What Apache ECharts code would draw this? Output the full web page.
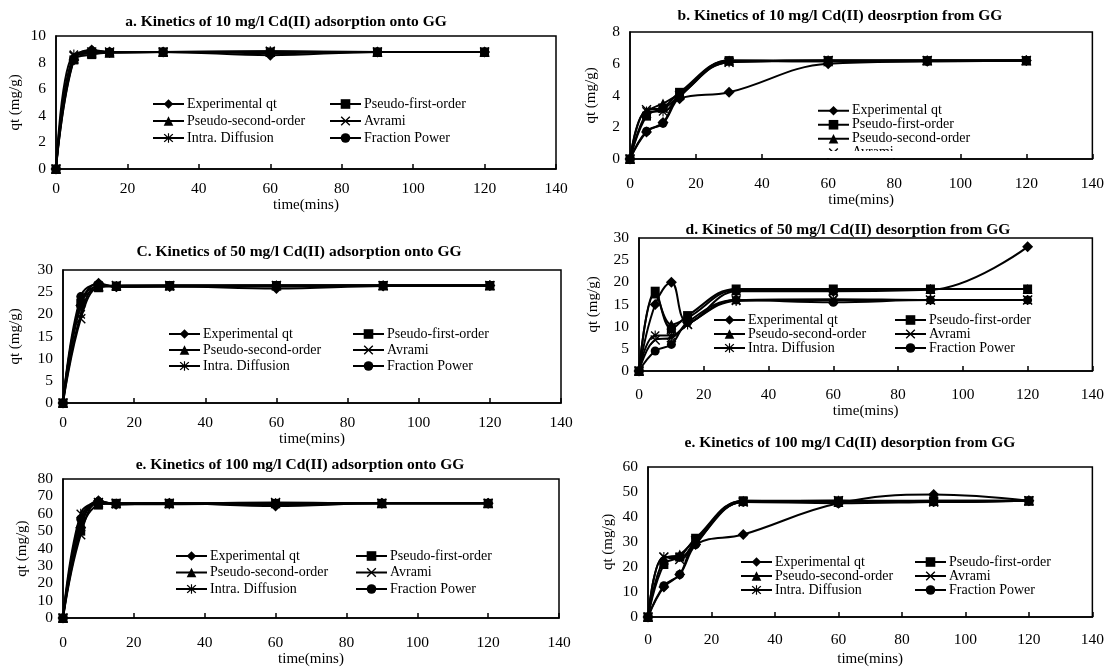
<!DOCTYPE html>
<html><head><meta charset="utf-8">
<script src="https://cdn.jsdelivr.net/npm/echarts@6/dist/echarts.min.js"></script>
<style>html,body{margin:0;padding:0;background:#fff}#c{width:1107px;height:668px}</style>
</head><body><div id="c"></div><script>
// ---------- data ----------
const times = [0, 5, 10, 15, 30, 60, 90, 120];
const seriesNames = ['Experimental qt', 'Pseudo-first-order', 'Pseudo-second-order', 'Avrami', 'Intra. Diffusion', 'Fraction Power'];
const xTickMax = 140, xTickStep = 20;
const yLabel = 'qt (mg/g)';
const xLabel = 'time(mins)';
const titles = [
  'a. Kinetics of 10 mg/l Cd(II) adsorption onto GG',
  'b. Kinetics of 10 mg/l Cd(II) deosrption from GG',
  'C. Kinetics of 50 mg/l Cd(II) adsorption onto GG',
  'd. Kinetics of 50 mg/l Cd(II) desorption from GG',
  'e. Kinetics of 100 mg/l Cd(II) adsorption onto GG',
  'e. Kinetics of 100 mg/l Cd(II) desorption from GG'
];
const yMax = [10, 8, 30, 30, 80, 60];
const yStep = [2, 2, 5, 5, 10, 10];

// a. 10 mg/l adsorption
const aExp = [0, 8.2, 8.95, 8.8, 8.8, 8.55, 8.8, 8.8];
const aPFO = [0, 8.2, 8.6, 8.75, 8.8, 8.8, 8.8, 8.8];
const aPSO = [0, 8.3, 8.7, 8.75, 8.8, 8.8, 8.8, 8.8];
const aAvr = [0, 8.5, 8.8, 8.8, 8.8, 8.85, 8.8, 8.8];
const aInt = [0, 8.6, 8.7, 8.75, 8.8, 8.85, 8.8, 8.8];
const aFP  = [0, 8.3, 8.9, 8.8, 8.8, 8.7, 8.8, 8.8];
// b. 10 mg/l desorption
const bExp = [0, 1.7, 2.3, 3.8, 4.2, 6.0, 6.15, 6.2];
const bPFO = [0, 2.7, 3.2, 4.2, 6.2, 6.2, 6.2, 6.2];
const bPSO = [0, 2.9, 3.5, 4.1, 6.2, 6.15, 6.2, 6.2];
const bAvr = [0, 3.1, 3.2, 4.0, 6.1, 6.2, 6.2, 6.2];
const bInt = [0, 3.0, 3.0, 4.0, 6.1, 6.2, 6.2, 6.2];
const bFP  = [0, 1.75, 2.25, 3.9, 6.15, 6.15, 6.15, 6.2];
// c. 50 mg/l adsorption
const cExp = [0, 22, 27, 26.2, 26.3, 25.8, 26.4, 26.5];
const cPFO = [0, 22.5, 26, 26.4, 26.5, 26.5, 26.5, 26.5];
const cPSO = [0, 23, 26.3, 26.4, 26.5, 26.5, 26.5, 26.5];
const cAvr = [0, 19, 26.2, 26.5, 26.5, 26.5, 26.5, 26.5];
const cInt = [0, 20, 26.5, 26.3, 26.3, 26.5, 26.5, 26.5];
const cFP  = [0, 24, 26.8, 26.2, 26.4, 26.3, 26.5, 26.5];
// d. 50 mg/l desorption
const dExp = [0, 15, 20, 11, 18, 18, 18.3, 28];
const dPFO = [0, 18, 9.5, 12.5, 18.5, 18.5, 18.5, 18.5];
const dPSO = [0, 17.5, 10.5, 12, 18.2, 18.2, 18.5, 18.5];
const dAvr = [0, 7, 7.5, 10.5, 16, 16.2, 16, 16];
const dInt = [0, 8, 8, 10.5, 15.8, 16, 16, 16];
const dFP  = [0, 4.5, 6, 11, 16, 15.5, 16, 16];
// e. 100 mg/l adsorption
const eExp = [0, 52, 67.5, 65.5, 66, 64.5, 66, 66];
const ePFO = [0, 50, 65, 66, 66, 66, 66, 66];
const ePSO = [0, 55, 66, 66, 66, 66, 66, 66];
const eAvr = [0, 48, 66.5, 66, 66, 66.5, 66, 66];
const eInt = [0, 60, 66, 65.5, 65.5, 66, 66, 66];
const eFP  = [0, 57, 67, 65.5, 66, 65.5, 66, 66];
// f. 100 mg/l desorption
const fExp = [0, 12, 17, 29, 33, 45.5, 49, 46.5];
const fPFO = [0, 21, 24, 31.5, 46.5, 46.5, 46.5, 46.5];
const fPSO = [0, 23, 25, 31, 46.5, 46, 46.5, 46.5];
const fAvr = [0, 24, 23, 30.5, 46, 46.5, 46, 46.5];
const fInt = [0, 24, 24, 30, 46, 46.5, 46, 46.5];
const fFP  = [0, 12.5, 17, 29, 46, 45.5, 46, 46.5];

const panels = [
  [aExp, aPFO, aPSO, aAvr, aInt, aFP],
  [bExp, bPFO, bPSO, bAvr, bInt, bFP],
  [cExp, cPFO, cPSO, cAvr, cInt, cFP],
  [dExp, dPFO, dPSO, dAvr, dInt, dFP],
  [eExp, ePFO, ePSO, eAvr, eInt, eFP],
  [fExp, fPFO, fPSO, fAvr, fInt, fFP]
];

// ---------- layout / style ----------
const FONT = 'Liberation Serif, Times New Roman, serif';
const grids = [
  {left: 56, top: 36, width: 500, height: 133},
  {left: 630, top: 32, width: 465, height: 127},
  {left: 63, top: 270, width: 498, height: 133},
  {left: 639, top: 238, width: 456, height: 133},
  {left: 63, top: 479, width: 496, height: 151},
  {left: 648, top: 467, width: 447, height: 152}
];
const xLabelMargin = [12, 17, 12, 16, 17, 15];
const xNameGap = [24, 30, 26, 32, 25, 35];
const yNameGap = [33, 31, 40, 38, 33, 32];
const titlePos = [[286, 22], [840, 16], [299, 252], [848, 230], [300, 465], [850, 443]];

const XPATH = 'path://M0,1L1,0L5,4L9,0L10,1L6,5L10,9L9,10L5,6L1,10L0,9L4,5Z';
const STARPATH = 'path://M0,1L1,0L5,4L9,0L10,1L6,5L10,9L9,10L5,6L1,10L0,9L4,5ZM4.4,-0.5L5.6,-0.5L5.6,10.5L4.4,10.5Z';
const symbols = ['diamond', 'rect', 'triangle', XPATH, STARPATH, 'circle'];
const symbolSizes = [11, 9, 10, 10, 10, 9];

const series = [];
panels.forEach((arrs, p) => {
  arrs.forEach((vals, k) => {
    series.push({
      type: 'line', name: seriesNames[k], xAxisIndex: p, yAxisIndex: p,
      data: times.map((t, i) => [t, vals[i]]),
      smooth: 0.4, symbol: symbols[k], symbolSize: symbolSizes[k], symbolKeepAspect: true,
      showSymbol: true, animation: false,
      lineStyle: {color: '#000', width: 2},
      itemStyle: {color: '#000'},
      emphasis: {disabled: true}
    });
  });
});

const xAxes = grids.map((g, p) => ({
  gridIndex: p, type: 'value', min: 0, max: xTickMax, interval: xTickStep,
  axisLine: {show: true, onZero: false, lineStyle: {color: '#000', width: 1.5}},
  axisTick: {show: true, inside: true, length: 5, lineStyle: {color: '#000', width: 1.5}},
  axisLabel: {color: '#000', fontFamily: FONT, fontSize: 15.5, margin: xLabelMargin[p]},
  splitLine: {show: false},
  name: xLabel, nameLocation: 'middle', nameGap: xNameGap[p],
  nameTextStyle: {color: '#000', fontFamily: FONT, fontSize: 15}
}));
const yAxes = grids.map((g, p) => ({
  gridIndex: p, type: 'value', min: 0, max: yMax[p], interval: yStep[p],
  axisLine: {show: true, lineStyle: {color: '#000', width: 1.5}},
  axisTick: {show: false},
  axisLabel: {color: '#000', fontFamily: FONT, fontSize: 15.5, margin: 10},
  splitLine: {show: false},
  name: yLabel, nameLocation: 'middle', nameGap: yNameGap[p], nameRotate: 90,
  nameTextStyle: {color: '#000', fontFamily: FONT, fontSize: 15}
}));

function legend(left, top, spacing, names) {
  return {
    left: left, top: top, orient: 'vertical', padding: 0, itemGap: 0,
    itemWidth: 31, itemHeight: 12, selectedMode: false,
    data: names,
    textStyle: {color: '#000', fontFamily: FONT, fontSize: 14, lineHeight: spacing, padding: [0, 0, 0, -2]}
  };
}
const col1 = [seriesNames[0], seriesNames[2], seriesNames[4]];
const col2 = [seriesNames[1], seriesNames[3], seriesNames[5]];
const legends = [
  legend(152, 104 - 8.5, 17, col1), legend(329, 104 - 8.5, 17, col2),
  legend(817, 110 - 6.25, 12.5, [seriesNames[0], seriesNames[1], seriesNames[2], seriesNames[3]]),
  legend(168, 334 - 8, 16, col1), legend(352, 334 - 8, 16, col2),
  legend(713, 320 - 7, 14, col1), legend(894, 320 - 7, 14, col2),
  legend(175, 556 - 8.25, 16.5, col1), legend(355, 556 - 8.25, 16.5, col2),
  legend(740, 562 - 7, 13.7, col1), legend(914, 562 - 7, 13.7, col2)
];

const graphic = titles.map((t, p) => ({
  type: 'text', x: titlePos[p][0], y: titlePos[p][1], z: 100,
  style: {text: t, fill: '#000', font: 'bold 15.5px ' + FONT, align: 'center', verticalAlign: 'middle'}
}));
// clipped bottom of legend in panel b
graphic.push({type: 'rect', shape: {x: 812, y: 151, width: 100, height: 7}, style: {fill: '#fff'}, z: 100});

const chart = echarts.init(document.getElementById('c'), null, {renderer: 'canvas'});
chart.setOption({
  backgroundColor: '#fff',
  animation: false,
  grid: grids.map(g => Object.assign({show: true, borderColor: '#000', borderWidth: 1.5, backgroundColor: 'transparent'}, g)),
  xAxis: xAxes,
  yAxis: yAxes,
  legend: legends,
  series: series,
  graphic: graphic
});
</script></body></html>
